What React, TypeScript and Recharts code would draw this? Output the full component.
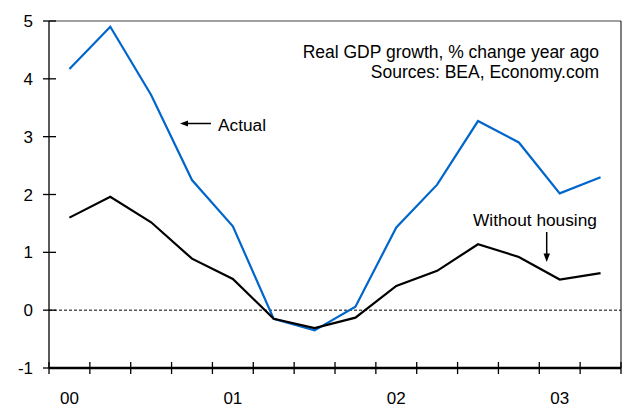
import React from "react";
import { LineChart, Line, XAxis, YAxis } from "recharts";

const quarters = [
  "00Q1", "00Q2", "00Q3", "00Q4",
  "01Q1", "01Q2", "01Q3", "01Q4",
  "02Q1", "02Q2", "02Q3", "02Q4",
  "03Q1", "03Q2",
];
const actual = [4.17, 4.9, 3.72, 2.25, 1.45, -0.15, -0.35, 0.06, 1.43, 2.17, 3.27, 2.9, 2.02, 2.3];
const withoutHousing = [1.6, 1.96, 1.52, 0.89, 0.54, -0.15, -0.31, -0.13, 0.42, 0.68, 1.14, 0.92, 0.53, 0.64];
const yearTicks = [0.5, 4.5, 8.5, 12.5];
const yearLabels = ["00", "01", "02", "03"];
const quarterTicks = [0, 1, 2, 3, 4, 5, 6, 7, 8, 9, 10, 11, 12, 13, 14];
const yTicks = [-1, 0, 1, 2, 3, 4, 5];

const FONT = "'Liberation Sans', Arial, sans-serif";

const data = quarters.map((q, i) => ({
  q,
  x: i + 0.5,
  actual: actual[i],
  without: withoutHousing[i],
}));

// frame and zero line as plain series (ReferenceLine made the axes vanish)
const zeroLine = [{ x: 0, v: 0 }, { x: 14, v: 0 }];
const topBorder = [{ x: 0, v: 5 }, { x: 14, v: 5 }];
const rightBorder = [{ x: 14, v: -1 }, { x: 14, v: 5 }];

const allXTicks = [...quarterTicks, ...yearTicks].sort((a, b) => a - b);

const YTick = (props: any) => {
  const { x, y, payload } = props;
  return (
    <g>
      <line x1={x - 6} x2={x + 7} y1={y} y2={y} stroke="#000" strokeWidth={1.3} />
      <text x={x - 16} y={y} dy="0.36em" textAnchor="end" fontSize={17} fontFamily={FONT} fill="#000">
        {payload.value}
      </text>
    </g>
  );
};

// quarter boundaries get a crossing tick mark, year midpoints get the label
const XTick = (props: any) => {
  const { x, y, payload } = props;
  const i = yearTicks.indexOf(payload.value);
  if (i >= 0) {
    return (
      <text x={x} y={y + 24} dy="0.71em" textAnchor="middle" fontSize={17} fontFamily={FONT} fill="#000">
        {yearLabels[i]}
      </text>
    );
  }
  return <line x1={x} x2={x} y1={y - 6} y2={y + 6} stroke="#000" strokeWidth={1.3} />;
};

export default function App() {
  return (
    <div style={{ position: "absolute", left: 0, top: 0, width: 624, height: 407 }}>
      <LineChart
        width={624}
        height={407}
        data={data}
        margin={{ top: 21, right: 3, bottom: 0, left: 0 }}
      >
        <XAxis
          type="number"
          dataKey="x"
          domain={[0, 14]}
          ticks={allXTicks}
          interval={0}
          height={39}
          tickSize={0}
          tickMargin={0}
          tickLine={false}
          tick={<XTick />}
          axisLine={{ stroke: "#000", strokeWidth: 2.3 }}
        />
        <YAxis
          type="number"
          domain={[-1, 5]}
          ticks={yTicks}
          interval={0}
          width={49}
          tickSize={0}
          tickMargin={0}
          tickLine={false}
          tick={<YTick />}
          axisLine={{ stroke: "#000", strokeWidth: 1.3 }}
        />
        <Line data={topBorder} dataKey="v" stroke="#808080" strokeWidth={1.5} dot={false} activeDot={false} isAnimationActive={false} />
        <Line data={rightBorder} dataKey="v" stroke="#000" strokeWidth={1} dot={false} activeDot={false} isAnimationActive={false} />
        <Line data={zeroLine} dataKey="v" stroke="#000" strokeWidth={1} strokeDasharray="3 2" dot={false} activeDot={false} isAnimationActive={false} />
        <Line
          type="linear"
          dataKey="actual"
          stroke="#0066cc"
          strokeWidth={2.2}
          dot={false}
          activeDot={false}
          isAnimationActive={false}
        />
        <Line
          type="linear"
          dataKey="without"
          stroke="#000"
          strokeWidth={2.2}
          dot={false}
          activeDot={false}
          isAnimationActive={false}
        />
      </LineChart>
      <svg
        width={624}
        height={407}
        style={{ position: "absolute", left: 0, top: 0, pointerEvents: "none" }}
        fontFamily={FONT}
        fontSize={17.3}
      >
        <text x={599} y={58} textAnchor="end" fontSize={17.5}>Real GDP growth, % change year ago</text>
        <text x={599} y={78} textAnchor="end" fontSize={17.5}>Sources: BEA, Economy.com</text>
        <text x={218} y={131}>Actual</text>
        <line x1={186} x2={211} y1={123.5} y2={123.5} stroke="#000" strokeWidth={1.5} />
        <polygon points="180,123.5 188,120.5 188,126.5" fill="#000" />
        <text x={473} y={226}>Without housing</text>
        <line x1={546.7} x2={546.7} y1={232} y2={255} stroke="#000" strokeWidth={1.5} />
        <polygon points="546.7,262 543.5,253.5 550,253.5" fill="#000" />
      </svg>
    </div>
  );
}
